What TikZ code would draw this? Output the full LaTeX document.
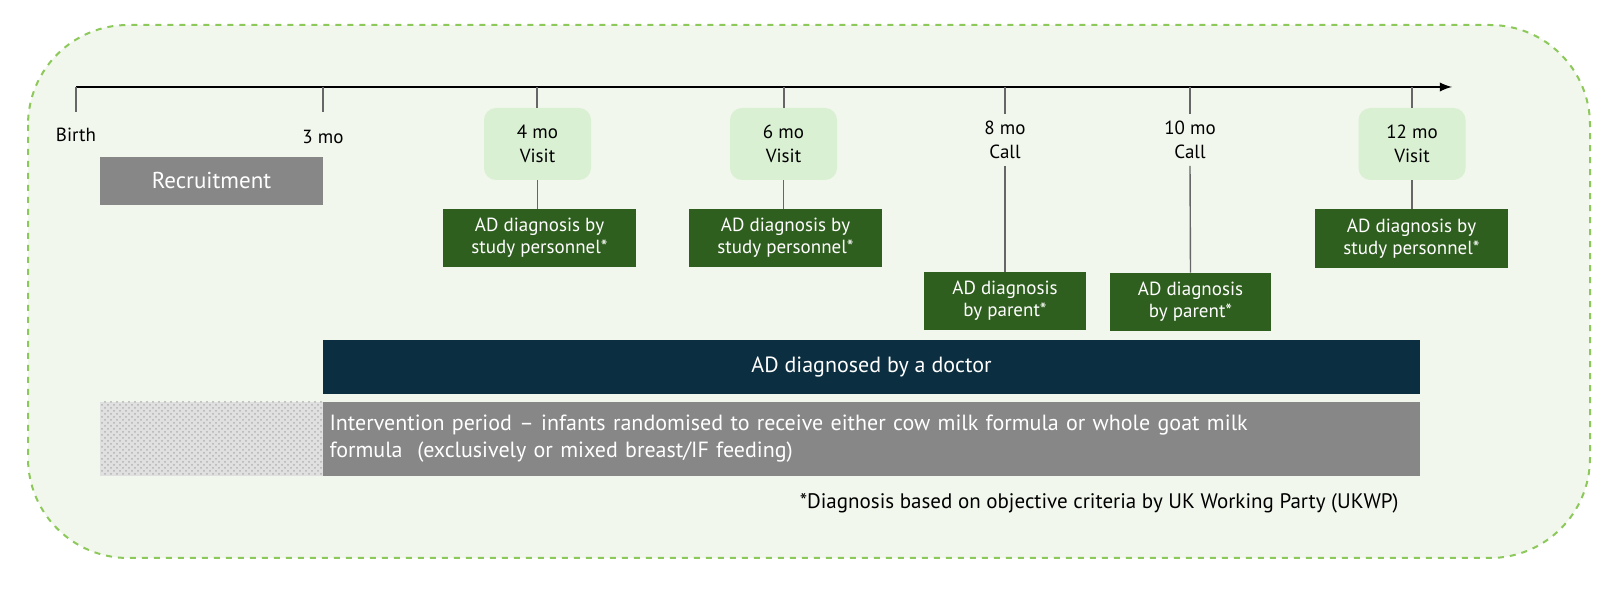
\documentclass[tikz,border=0pt]{standalone}
\usepackage{fontspec}
\setmainfont{PT Sans}
\usetikzlibrary{patterns}
\definecolor{bgc}{HTML}{F1F7EC}
\definecolor{bdc}{HTML}{8CC85A}
\definecolor{visitc}{HTML}{D9F0D3}
\definecolor{dgc}{HTML}{2F5F1F}
\definecolor{navy}{HTML}{0B2E40}
\definecolor{grayc}{HTML}{878787}
\tikzset{
  vbox/.style={fill=visitc,rounded corners=6pt,minimum width=53.5pt,minimum height=36pt,align=center,font=\fontsize{9.5}{12}\selectfont,inner sep=0pt},
  dbox/.style={fill=dgc,text=white,align=center,font=\fontsize{9.5}{11}\selectfont,inner sep=0pt},
  lbl/.style={font=\fontsize{9.5}{12}\selectfont,align=center},
  tk/.style={draw=black!60,line width=0.7pt}
}
\begin{document}
\begin{tikzpicture}[x=0.5pt,y=-0.5pt]
\useasboundingbox (0,0) rectangle (1618,597);
\draw[bdc,dashed,line width=1pt,fill=bgc,rounded corners=50pt] (28,25) rectangle (1590,558);
\coordinate (a0) at (76,87);
\coordinate (a1) at (1452,87);
\draw[-latex,line width=1.1pt] (a0) -- (a1);
% ticks
\coordinate (t0) at (76,87); \coordinate (t0b) at (76,112);
\coordinate (t3) at (323,87); \coordinate (t3b) at (323,112);
\draw[tk] (t0)--(t0b); \draw[tk] (t3)--(t3b);
\node[lbl] (birth) at (76,135) {Birth};
\node[lbl] (m3) at (323,137) {3 mo};
% visits
\node[vbox] (v4) at (537.5,144) {4 mo\\Visit};
\node[vbox] (v6) at (783.5,144) {6 mo\\Visit};
\node[vbox] (v12) at (1412,144) {12 mo\\Visit};
\node[lbl] (c8) at (1005,140) {8 mo\\Call};
\node[lbl] (c10) at (1190,140) {10 mo\\Call};
% diagnosis boxes
\node[dbox,minimum width=96.5pt,minimum height=29pt] (d4) at (539.5,238) {AD diagnosis by\\study personnel*};
\node[dbox,minimum width=96.5pt,minimum height=29pt] (d6) at (785.5,238) {AD diagnosis by\\study personnel*};
\node[dbox,minimum width=96.5pt,minimum height=29.5pt] (d12) at (1411.5,238.5) {AD diagnosis by\\study personnel*};
\node[dbox,minimum width=81pt,minimum height=29pt] (d8) at (1005,301) {AD diagnosis\\by parent*};
\node[dbox,minimum width=80.5pt,minimum height=29pt] (d10) at (1190.5,302) {AD diagnosis\\by parent*};
\foreach \n/\x in {v4/537,v6/784,c8/1005,c10/1190,v12/1412}{
  \coordinate (top\n) at (\x,87);
  \draw[tk] (top\n) -- (\n.north -| top\n);
}
\draw[tk] (v4) -- (d4.north -| v4);
\draw[tk] (v6) -- (d6.north -| v6);
\draw[tk] (v12) -- (d12.north -| v12);
\draw[tk] (c8.south) -- (d8.north);
\draw[tk] (c10.south) -- (d10.north);
% bars
\node[fill=grayc,text=white,minimum width=111.5pt,minimum height=24pt,inner sep=0pt,font=\fontsize{11.5}{13}\selectfont] (rec) at (211.5,181) {Recruitment};
\node[fill=navy,text=white,minimum width=548.5pt,minimum height=27pt,inner sep=0pt,font=\fontsize{11}{13}\selectfont] (doc) at (871.5,367) {AD diagnosed by a doctor};
\node[fill=grayc,text=white,minimum width=548.5pt,minimum height=37pt,inner sep=0pt,text width=542pt,align=left,font=\fontsize{11}{13.5}\selectfont] (int) at (871.5,439) {Intervention period -- infants randomised to receive either cow milk formula or whole goat milk\\formula~ (exclusively or mixed breast/IF feeding)};
\path[fill=black!12] (100,402) rectangle (323,476);
\path[pattern=crosshatch dots,pattern color=black!30] (100,402) rectangle (323,476);
\node[anchor=east,font=\fontsize{10.5}{12}\selectfont,inner sep=0pt] (fn) at (1399,503) {*Diagnosis based on objective criteria by UK Working Party (UKWP)};
\end{tikzpicture}
\end{document}
